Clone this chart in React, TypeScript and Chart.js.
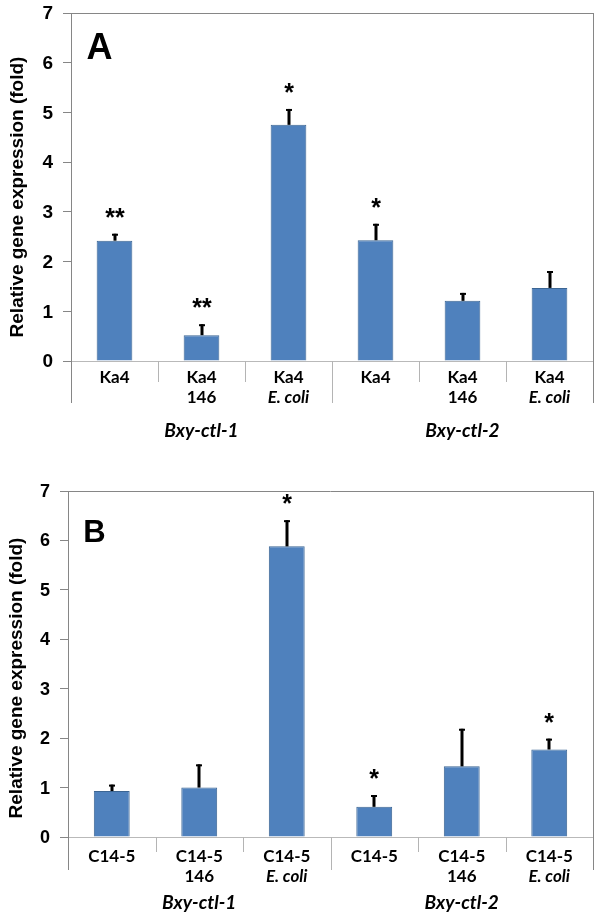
import React, { useEffect, useRef } from "react";
import { Chart, registerables } from "chart.js";

Chart.register(...registerables);

// ---------- data ----------
const groupNames = ["Bxy-ctl-1", "Bxy-ctl-2"];
const labelLine1A = ["Ka4", "Ka4", "Ka4", "Ka4", "Ka4", "Ka4"];
const labelLine1B = ["C14-5", "C14-5", "C14-5", "C14-5", "C14-5", "C14-5"];
const labelLine2 = ["", "146", "E. coli", "", "146", "E. coli"];
const labelLine2Italic = [false, false, true, false, false, true];

const valuesA = [2.42, 0.52, 4.75, 2.43, 1.21, 1.47];
const errorsA = [0.14, 0.22, 0.32, 0.33, 0.16, 0.34];
const starsA = ["**", "**", "*", "*", "", ""];

const valuesB = [0.93, 1.0, 5.88, 0.61, 1.43, 1.77];
const errorsB = [0.13, 0.47, 0.53, 0.24, 0.76, 0.22];
const starsB = ["", "", "*", "*", "", "*"];

const yTickValues = [0, 1, 2, 3, 4, 5, 6, 7];
const yTickLabels = ["0", "1", "2", "3", "4", "5", "6", "7"];
const yTitle = "Relative gene expression (fold)";

// ---------- layout / style ----------
type PanelCfg = {
  letter: string;
  letterSize: number;
  letterX: number;
  letterY: number;
  height: number;
  top: number;
  bottom: number;
  left: number;
  right: number;
  tickSize: number;
  tickGap: number;
  titleX: number;
  titleY: number;
  line1Off: number;
  line2Off: number;
  groupOff: number;
  shortSep: number;
  longSep: number;
};

const cfgA: PanelCfg = {
  letter: "A",
  letterSize: 36,
  letterX: 99.5,
  letterY: 46,
  height: 460,
  top: 13,
  bottom: 361,
  left: 71,
  right: 593,
  tickSize: 19,
  tickGap: 18,
  titleX: 17.5,
  titleY: 197,
  line1Off: 17,
  line2Off: 37,
  groupOff: 70,
  shortSep: 21,
  longSep: 42,
};

const cfgB: PanelCfg = {
  letter: "B",
  letterSize: 31,
  letterX: 94.5,
  letterY: 71,
  height: 459,
  top: 31,
  bottom: 377,
  left: 68,
  right: 593,
  tickSize: 18,
  tickGap: 18,
  titleX: 17,
  titleY: 218,
  line1Off: 20,
  line2Off: 40,
  groupOff: 66,
  shortSep: 15,
  longSep: 33,
};

const BAR_FILL = "#4F81BD";
const BAR_EDGE = "#3B6593";
const AXIS = "#868686";
const SEP = "#b4b4b4";
const SANS = "'Liberation Sans', Arial, sans-serif";
const LABEL_FONT = "Lato, 'Open Sans', sans-serif";

function Panel(props: {
  cfg: PanelCfg;
  values: number[];
  errors: number[];
  stars: string[];
  line1: string[];
  top: number;
}) {
  const ref = useRef<HTMLCanvasElement | null>(null);
  const { cfg, values, errors, stars, line1 } = props;

  useEffect(() => {
    const canvas = ref.current;
    if (!canvas) return;
    const labels = line1.map((l, i) => (labelLine2[i] ? l + " " + labelLine2[i] : l));

    const decor = {
      id: "decor" + cfg.letter,
      afterDatasetsDraw(chart: any) {
        const ctx = chart.ctx as CanvasRenderingContext2D;
        const ys = chart.scales.y;
        const meta = chart.getDatasetMeta(0);
        ctx.save();
        meta.data.forEach((bar: any, i: number) => {
          const x = Math.round(bar.x);
          const y0 = ys.getPixelForValue(values[i]);
          const y1 = ys.getPixelForValue(values[i] + errors[i]);
          ctx.strokeStyle = "#000";
          ctx.lineWidth = 3;
          ctx.beginPath();
          ctx.moveTo(x, y0);
          ctx.lineTo(x, y1);
          ctx.stroke();
          ctx.lineWidth = 2;
          ctx.beginPath();
          ctx.moveTo(x - 3, y1 + 1);
          ctx.lineTo(x + 3, y1 + 1);
          ctx.stroke();
          if (stars[i]) {
            ctx.font = "bold 25px " + SANS;
            ctx.fillStyle = "#000";
            ctx.textAlign = "center";
            ctx.textBaseline = "alphabetic";
            const m = ctx.measureText(stars[i]);
            const centerY = y1 - 21;
            const base = centerY - (m.actualBoundingBoxDescent - m.actualBoundingBoxAscent) / 2;
            ctx.fillText(stars[i], x, base);
          }
        });
        ctx.restore();
      },
      afterDraw(chart: any) {
        const ctx = chart.ctx as CanvasRenderingContext2D;
        const area = chart.chartArea;
        const xs = chart.scales.x;
        const ys = chart.scales.y;
        ctx.save();
        // plot box top and right
        ctx.strokeStyle = AXIS;
        ctx.lineWidth = 1;
        ctx.beginPath();
        ctx.moveTo(area.left, Math.round(area.top) + 0.5);
        ctx.lineTo(area.right, Math.round(area.top) + 0.5);
        ctx.moveTo(Math.round(area.right) + 0.5, area.top);
        ctx.lineTo(Math.round(area.right) + 0.5, area.bottom);
        ctx.stroke();

        // y tick labels
        ctx.fillStyle = "#000";
        ctx.font = "bold " + cfg.tickSize + "px " + SANS;
        ctx.textAlign = "right";
        ctx.textBaseline = "middle";
        yTickValues.forEach((v, i) => {
          ctx.fillText(yTickLabels[i], area.left - cfg.tickGap, ys.getPixelForValue(v) + 1);
        });

        // category separators
        const half = (xs.getPixelForValue(1) - xs.getPixelForValue(0)) / 2;
        const n = labels.length;
        for (let b = 0; b <= n; b++) {
          const bx =
            b < n ? xs.getPixelForValue(b) - half : xs.getPixelForValue(n - 1) + half;
          const long = b % 3 === 0;
          ctx.strokeStyle = b === 0 || b === n ? AXIS : SEP;
          ctx.beginPath();
          const px = Math.round(bx) + 0.5;
          ctx.moveTo(px, area.bottom);
          ctx.lineTo(px, area.bottom + (long ? cfg.longSep : cfg.shortSep));
          ctx.stroke();
        }

        // category labels
        ctx.fillStyle = "#000";
        ctx.textAlign = "center";
        ctx.textBaseline = "middle";
        for (let i = 0; i < n; i++) {
          const cx = xs.getPixelForValue(i);
          ctx.font = "bold 17px " + LABEL_FONT;
          ctx.fillText(line1[i], cx, area.bottom + cfg.line1Off);
          if (labelLine2[i]) {
            ctx.font = (labelLine2Italic[i] ? "italic " : "") + "bold 17px " + LABEL_FONT;
            ctx.fillText(labelLine2[i], cx, area.bottom + cfg.line2Off);
          }
        }
        // group labels
        ctx.font = "italic bold 19px " + LABEL_FONT;
        groupNames.forEach((g, gi) => {
          const a = xs.getPixelForValue(gi * 3);
          const c = xs.getPixelForValue(gi * 3 + 2);
          ctx.fillText(g, (a + c) / 2, area.bottom + cfg.groupOff);
        });

        // y title
        ctx.save();
        ctx.translate(cfg.titleX, cfg.titleY);
        ctx.rotate(-Math.PI / 2);
        ctx.font = "bold 19px " + SANS;
        ctx.textAlign = "center";
        ctx.textBaseline = "middle";
        ctx.fillText(yTitle, 0, 0);
        ctx.restore();

        // panel letter
        ctx.font = "bold " + cfg.letterSize + "px " + SANS;
        ctx.textAlign = "center";
        ctx.textBaseline = "alphabetic";
        const m = ctx.measureText(cfg.letter);
        const base = cfg.letterY - (m.actualBoundingBoxDescent - m.actualBoundingBoxAscent) / 2;
        ctx.fillText(cfg.letter, cfg.letterX, base);
        ctx.restore();
      },
    };

    const chart = new Chart(canvas, {
      type: "bar",
      data: {
        labels,
        datasets: [
          {
            data: values,
            backgroundColor: BAR_FILL,
            borderColor: BAR_EDGE,
            borderWidth: 1,
            categoryPercentage: 1,
            barPercentage: 0.41,
          },
        ],
      },
      options: {
        responsive: false,
        animation: false,
        devicePixelRatio: 1,
        layout: {
          padding: { left: 0, top: cfg.top, right: 600 - cfg.right, bottom: 0 },
        },
        plugins: {
          legend: { display: false },
          tooltip: { enabled: false },
          title: { display: false },
        },
        scales: {
          x: {
            type: "category",
            offset: true,
            ticks: { display: false },
            grid: { display: false },
            border: { display: true, color: "#b9b9b9", width: 1 },
            afterFit: (s: any) => {
              s.height = cfg.height - cfg.bottom;
            },
          },
          y: {
            min: yTickValues[0],
            max: yTickValues[yTickValues.length - 1],
            ticks: {
              stepSize: 1,
              display: false,
            },
            grid: {
              display: true,
              drawOnChartArea: false,
              drawTicks: true,
              tickLength: 8,
              color: AXIS,
            },
            border: { display: true, color: AXIS, width: 1 },
            afterFit: (s: any) => {
              s.width = cfg.left;
            },
          },
        },
      } as any,
      plugins: [decor as any],
    });
    return () => chart.destroy();
  }, []);

  return (
    <canvas
      ref={ref}
      width={600}
      height={cfg.height}
      style={{ position: "absolute", left: 0, top: props.top, width: 600, height: cfg.height }}
    />
  );
}

export default function App() {
  return (
    <div style={{ position: "absolute", left: 0, top: 0, width: 600, height: 919, background: "#fff" }}>
      <Panel cfg={cfgA} values={valuesA} errors={errorsA} stars={starsA} line1={labelLine1A} top={0} />
      <Panel cfg={cfgB} values={valuesB} errors={errorsB} stars={starsB} line1={labelLine1B} top={460} />
    </div>
  );
}
